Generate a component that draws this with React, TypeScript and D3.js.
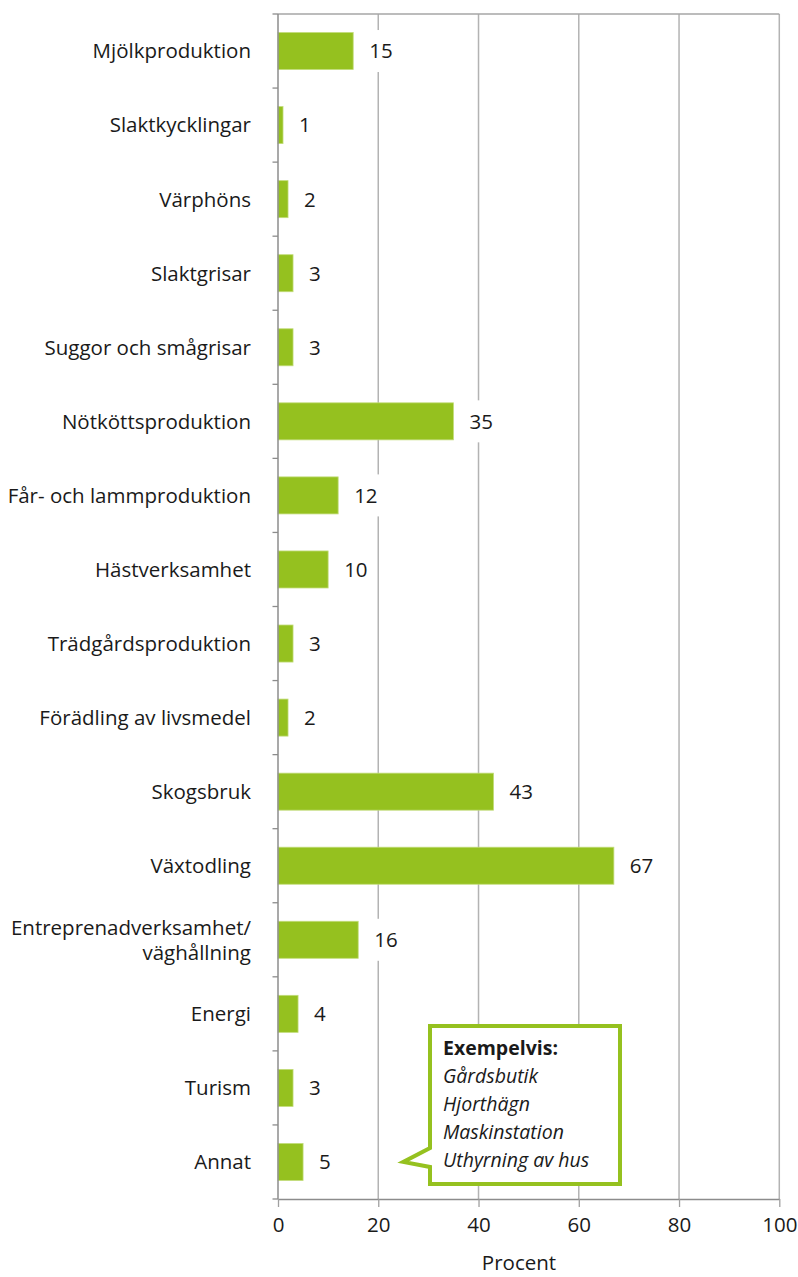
import * as d3 from "d3";
import React from "react";

// Andel företag med respektive verksamhet (procent)
const categories = [
  "Mjölkproduktion",
  "Slaktkycklingar",
  "Värphöns",
  "Slaktgrisar",
  "Suggor och smågrisar",
  "Nötköttsproduktion",
  "Får- och lammproduktion",
  "Hästverksamhet",
  "Trädgårdsproduktion",
  "Förädling av livsmedel",
  "Skogsbruk",
  "Växtodling",
  "Entreprenadverksamhet/\nväghållning",
  "Energi",
  "Turism",
  "Annat",
];
const percent = [15, 1, 2, 3, 3, 35, 12, 10, 3, 2, 43, 67, 16, 4, 3, 5];
const xTicks = [0, 20, 40, 60, 80, 100];
const xTitle = "Procent";
const calloutTitle = "Exempelvis:";
const calloutItems = ["Gårdsbutik", "Hjorthägn", "Maskinstation", "Uthyrning av hus"];

const FONT = "'Open Sans', 'Noto Sans', sans-serif";
const GREEN = "#95c11f";
const TEXT = "#1a1a1a";

const App = (): React.ReactElement => {
  const chartRef = React.useRef<SVGSVGElement>(null);

  const width = 798;
  const height = 1277;
  const margin = { top: 14, left: 278, right: 18.7, bottom: 78 };

  React.useEffect(() => {
    const svg = d3.select(chartRef.current);
    svg.selectAll("*").remove();

    const x = d3
      .scaleLinear()
      .domain([0, 100])
      .range([margin.left, width - margin.right]);
    const y = d3
      .scaleBand<string>()
      .domain(categories)
      .range([margin.top, height - margin.bottom])
      .paddingInner(0.5)
      .paddingOuter(0.25);

    const top = margin.top;
    const bottom = height - margin.bottom;
    const g = svg.append("g").attr("font-family", FONT);

    // gridlines + right border
    g.selectAll("line.grid")
      .data(xTicks.filter((t) => t > 0))
      .join("line")
      .attr("class", "grid")
      .attr("x1", (d) => x(d))
      .attr("x2", (d) => x(d))
      .attr("y1", top)
      .attr("y2", bottom)
      .attr("stroke", "#b3b3b3")
      .attr("stroke-width", 1.5);

    // top border
    g.append("line")
      .attr("x1", x(0))
      .attr("x2", x(100))
      .attr("y1", top)
      .attr("y2", top)
      .attr("stroke", "#a6a6a6")
      .attr("stroke-width", 1.5);

    const rows = categories.map((c, i) => ({ c, v: percent[i] }));
    const mid = (c: string) => (y(c) as number) + y.bandwidth() / 2;

    // value labels, with white boxes behind them
    const labels = g
      .selectAll("g.val")
      .data(rows)
      .join("g")
      .attr("class", "val");
    const bg = labels.append("rect").attr("fill", "#fff");
    const txt = labels
      .append("text")
      .attr("x", (d) => x(d.v) + 16)
      .attr("y", (d) => mid(d.c))
      .attr("dy", "0.36em")
      .attr("font-size", 20.5)
      .attr("fill", TEXT)
      .text((d) => d.v);
    bg.each(function (d, i) {
      const w = (txt.nodes()[i] as SVGTextElement).getComputedTextLength();
      d3.select(this)
        .attr("x", x(d.v) + 8)
        .attr("width", w + 12)
        .attr("y", mid(d.c) - 21)
        .attr("height", 42);
    });

    // bars
    g.selectAll("rect.bar")
      .data(rows)
      .join("rect")
      .attr("class", "bar")
      .attr("x", x(0))
      .attr("y", (d) => y(d.c) as number)
      .attr("width", (d) => x(d.v) - x(0))
      .attr("height", y.bandwidth())
      .attr("fill", GREEN)
      .attr("stroke", "#c2dc7a")
      .attr("stroke-width", 0.8);

    // left axis with ticks between categories
    const step = y.step();
    const gap = (step - y.bandwidth()) / 2;
    const bounds = categories.map((c) => (y(c) as number) - gap);
    bounds.push(bottom);
    g.selectAll("line.ytick")
      .data(bounds)
      .join("line")
      .attr("class", "ytick")
      .attr("x1", x(0) - 5.5)
      .attr("x2", x(0))
      .attr("y1", (d) => d)
      .attr("y2", (d) => d)
      .attr("stroke", "#8c8c8c")
      .attr("stroke-width", 1.3);
    g.append("line")
      .attr("x1", x(0))
      .attr("x2", x(0))
      .attr("y1", top)
      .attr("y2", bottom)
      .attr("stroke", "#8c8c8c")
      .attr("stroke-width", 1.5);

    // category labels
    const cat = g
      .selectAll("text.cat")
      .data(categories)
      .join("text")
      .attr("class", "cat")
      .attr("text-anchor", "end")
      .attr("font-size", 20.5)
      .attr("fill", TEXT);
    cat.each(function (c) {
      const lines = c.split("\n");
      const lh = 25;
      const y0 = mid(c) - ((lines.length - 1) * lh) / 2;
      d3.select(this)
        .selectAll("tspan")
        .data(lines)
        .join("tspan")
        .attr("x", x(0) - 27)
        .attr("y", (_, j) => y0 + j * lh)
        .attr("dy", "0.36em")
        .text((l) => l);
    });

    // bottom axis
    const xAxis = g
      .append("g")
      .attr("transform", `translate(0, ${bottom})`)
      .call(d3.axisBottom(x).tickValues(xTicks).tickSize(8).tickSizeOuter(0).tickPadding(10));
    xAxis.select(".domain").attr("stroke", "#8c8c8c").attr("stroke-width", 1.5);
    xAxis.selectAll(".tick line").attr("stroke", "#a0a0a0").attr("stroke-width", 1.3);
    xAxis
      .selectAll(".tick text")
      .attr("font-family", FONT)
      .attr("font-size", 20.5)
      .attr("fill", TEXT);

    g.append("text")
      .attr("x", 519)
      .attr("y", 1270)
      .attr("text-anchor", "middle")
      .attr("font-size", 20.5)
      .attr("fill", TEXT)
      .text(xTitle);

    // callout pointing at "Annat"
    const tipX = x(25);
    const tipY = mid("Annat");
    const L = 430;
    const R = 620;
    const T = 1026;
    const B = 1184;
    const path = d3.path();
    path.moveTo(L, T);
    path.lineTo(R, T);
    path.lineTo(R, B);
    path.lineTo(L, B);
    path.lineTo(L, tipY + 5);
    path.lineTo(tipX, tipY);
    path.lineTo(L, tipY - 14);
    path.closePath();
    g.append("path")
      .attr("d", path.toString())
      .attr("fill", "#fff")
      .attr("stroke", GREEN)
      .attr("stroke-width", 4)
      .attr("stroke-linejoin", "miter");

    const ct = g.append("text").attr("font-size", 19.5).attr("fill", TEXT);
    ct.append("tspan")
      .attr("x", 443)
      .attr("y", 1055)
      .attr("font-weight", "bold")
      .text(calloutTitle);
    calloutItems.forEach((t, i) => {
      ct.append("tspan")
        .attr("x", 443)
        .attr("y", 1083 + i * 28)
        .attr("font-style", "italic")
        .text(t);
    });
  }, []);

  return (
    <div style={{ position: "absolute", left: 0, top: 0 }}>
      <svg ref={chartRef} width={width} height={height}></svg>
    </div>
  );
};

export default App;
